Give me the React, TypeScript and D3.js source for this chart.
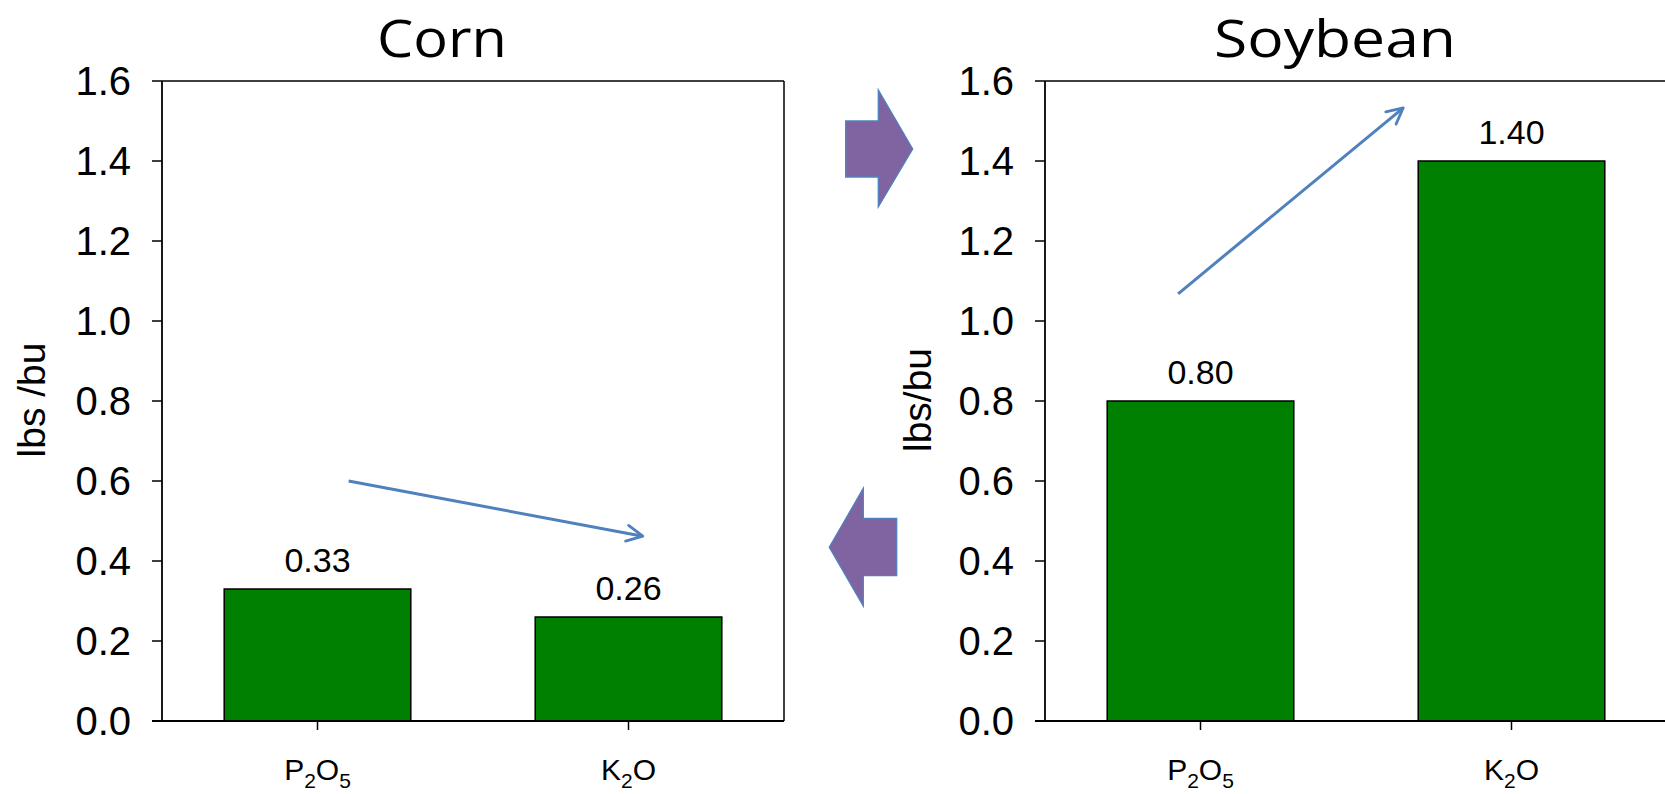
import React from "react";
import * as d3 from "d3";

// Nutrient removal per bushel of harvested grain
const categories = ["P2O5", "K2O"];
const cornValues = [0.33, 0.26];
const soybeanValues = [0.8, 1.4];
const yTicks = [0, 0.2, 0.4, 0.6, 0.8, 1.0, 1.2, 1.4, 1.6];
const panelTitles = ["Corn", "Soybean"];
const yAxisTitles = ["lbs /bu", "lbs/bu"];

// Trend arrows: start/end as a fraction of the plot width and a y value
const cornTrend = { f0: 0.3, v0: 0.6, f1: 0.773, v1: 0.462 };
const soyTrend = { f0: 0.214, v0: 1.068, f1: 0.576, v1: 1.533 };

const W = 1665;
const H = 794;
const plotTop = 81;
const plotBottom = 721;
const plotW = 622;
const numFont = "'Liberation Sans', Arial, sans-serif";
const titleFont = "'Open Sans', 'Noto Sans', sans-serif";
const BLUE = "#4F81BD";
const GREEN = "#008000";
const PURPLE = "#8064A2";

// Renders chemical formulas with digits as subscripts (P2O5 -> P₂O₅)
function Formula({ text }: { text: string }) {
  const parts = text.split(/(\d+)/).filter((p) => p.length > 0);
  return (
    <>
      {parts.map((p, i) =>
        /^\d+$/.test(p) ? (
          <tspan key={i} fontSize={21} dy={8}>
            {p}
          </tspan>
        ) : (
          <tspan key={i} dy={i > 0 ? -8 : 0}>
            {p}
          </tspan>
        )
      )}
    </>
  );
}

type Trend = { f0: number; v0: number; f1: number; v1: number };

function Panel(props: {
  x0: number;
  values: number[];
  title: string;
  titleX: number;
  titleLen: number;
  yTitle: string;
  yTitleX: number;
  trend: Trend;
  id: string;
}) {
  const { x0, values, title, titleX, titleLen, yTitle, yTitleX, trend, id } = props;
  const x = d3
    .scaleBand<string>()
    .domain(categories)
    .range([x0, x0 + plotW])
    .paddingInner(0.4)
    .paddingOuter(0.2);
  const y = d3.scaleLinear().domain([0, 1.6]).range([plotBottom, plotTop]);
  const fx = d3.scaleLinear().domain([0, 1]).range([x0, x0 + plotW]);
  const line = d3.line<[number, number]>();
  const trendPath = line([
    [fx(trend.f0), y(trend.v0)],
    [fx(trend.f1), y(trend.v1)],
  ]);

  return (
    <g>
      <defs>
        <marker
          id={`head-${id}`}
          viewBox="0 0 20 20"
          refX={18}
          refY={10}
          markerWidth={20}
          markerHeight={20}
          markerUnits="userSpaceOnUse"
          orient="auto"
        >
          <path d="M2,2 L18,10 L2,18" fill="none" stroke={BLUE} strokeWidth={2.8} strokeLinecap="round" strokeLinejoin="round" />
        </marker>
      </defs>

      <text
        x={titleX}
        y={57}
        textAnchor="middle"
        fontFamily={titleFont}
        fontSize={51}
        fill="#000"
        textLength={titleLen}
        lengthAdjust="spacingAndGlyphs"
      >
        {title}
      </text>

      {/* bars */}
      {categories.map((c, i) => (
        <rect
          key={c}
          x={x(c)}
          y={y(values[i])}
          width={x.bandwidth()}
          height={y(0) - y(values[i])}
          fill={GREEN}
          stroke="#000"
          strokeWidth={1.5}
        />
      ))}

      {/* value labels */}
      {categories.map((c, i) => (
        <text
          key={c}
          x={(x(c) as number) + x.bandwidth() / 2}
          y={y(values[i]) - 17}
          textAnchor="middle"
          fontFamily={numFont}
          fontSize={34}
          fill="#000"
        >
          {values[i].toFixed(2)}
        </text>
      ))}

      {/* frame */}
      <line x1={x0} x2={x0 + plotW} y1={plotTop} y2={plotTop} stroke="#000" strokeWidth={1.5} />
      <line x1={x0 + plotW} x2={x0 + plotW} y1={plotTop} y2={plotBottom} stroke="#000" strokeWidth={1.5} />
      <line x1={x0} x2={x0} y1={plotTop} y2={plotBottom} stroke="#000" strokeWidth={1.8} />
      <line x1={x0 - 10} x2={x0 + plotW} y1={plotBottom} y2={plotBottom} stroke="#000" strokeWidth={2.2} />

      {/* y axis ticks and labels */}
      {yTicks.map((t) => (
        <g key={t}>
          <line x1={x0 - 10} x2={x0} y1={y(t)} y2={y(t)} stroke="#000" strokeWidth={1.5} />
          <text
            x={x0 - 31}
            y={y(t)}
            dy="0.36em"
            textAnchor="end"
            fontFamily={numFont}
            fontSize={40}
            fill="#000"
          >
            {t.toFixed(1)}
          </text>
        </g>
      ))}

      {/* x axis ticks and labels */}
      {categories.map((c) => {
        const cx = (x(c) as number) + x.bandwidth() / 2;
        return (
          <g key={c}>
            <line x1={cx} x2={cx} y1={plotBottom} y2={plotBottom + 9} stroke="#000" strokeWidth={1.5} />
            <text x={cx} y={780} textAnchor="middle" fontFamily={numFont} fontSize={30} fill="#000">
              <Formula text={c} />
            </text>
          </g>
        );
      })}

      {/* y axis title */}
      <text
        transform={`translate(${yTitleX},400) rotate(-90)`}
        textAnchor="middle"
        fontFamily={numFont}
        fontSize={39}
        fill="#000"
      >
        {yTitle}
      </text>

      {/* trend arrow */}
      <path
        d={trendPath ?? ""}
        fill="none"
        stroke={BLUE}
        strokeWidth={3}
        markerEnd={`url(#head-${id})`}
      />
    </g>
  );
}

export default function App() {
  // block arrows linking the two panels
  const rightArrow = [
    [845.7, 121],
    [878.3, 121],
    [878.3, 90],
    [912.7, 149],
    [878.3, 207],
    [878.3, 177],
    [845.7, 177],
  ];
  const leftArrow = [
    [896.7, 518.3],
    [863.3, 518.3],
    [863.3, 488.3],
    [829.3, 547.3],
    [863.3, 606],
    [863.3, 575.7],
    [896.7, 575.7],
  ];
  const poly = (pts: number[][]) => pts.map((p) => p.join(",")).join(" ");

  return (
    <svg
      width={W}
      height={H}
      viewBox={`0 0 ${W} ${H}`}
      style={{ position: "absolute", left: 0, top: 0, background: "#fff" }}
    >
      <rect x={0} y={0} width={W} height={H} fill="#fff" />
      <Panel
        id="corn"
        x0={162}
        values={cornValues}
        title={panelTitles[0]}
        titleX={442}
        titleLen={130}
        yTitle={yAxisTitles[0]}
        yTitleX={45}
        trend={cornTrend}
      />
      <Panel
        id="soy"
        x0={1045}
        values={soybeanValues}
        title={panelTitles[1]}
        titleX={1335}
        titleLen={242}
        yTitle={yAxisTitles[1]}
        yTitleX={931}
        trend={soyTrend}
      />
      <polygon points={poly(rightArrow)} fill={PURPLE} stroke={BLUE} strokeWidth={1.3} />
      <polygon points={poly(leftArrow)} fill={PURPLE} stroke={BLUE} strokeWidth={1.3} />
    </svg>
  );
}
